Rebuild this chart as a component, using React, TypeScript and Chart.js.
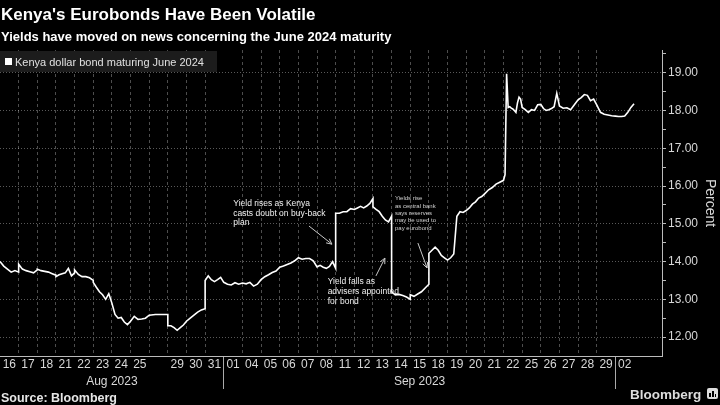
import React, { useEffect, useRef } from 'react';
import { Chart, registerables } from 'chart.js';
Chart.register(...registerables);

const FONT = '"Liberation Sans", Arial, sans-serif';

// Trading days shown on the x axis (slot 8 = 28 Aug, no label)
const dayLabels = ['16','17','18','21','22','23','24','25','','29','30','31','01','04','05','06','07','08','11','12','13','14','15','18','19','20','21','22','25','26','27','28','29','02'];
const months = ['Aug 2023', 'Sep 2023'];
const monthStarts = [0, 12];
const monthEnds = [12, 33];
const monthSeparators = [12, 33];

// Intraday yield samples (percent) for each trading day, in order
const yieldsByDay: number[][] = [
  [14.0, 13.88, 13.8, 13.72, 13.76, 13.72],
  [13.93, 13.8, 13.76, 13.73, 13.7, 13.78],
  [13.8, 13.76, 13.74, 13.72, 13.68, 13.64],
  [13.6, 13.65, 13.68, 13.7, 13.82, 13.62, 13.7],
  [13.78, 13.66, 13.6, 13.6, 13.57, 13.5],
  [13.45, 13.32, 13.2, 13.12, 13.0, 13.15, 12.9],
  [12.9, 12.6, 12.5, 12.52, 12.4, 12.33, 12.42],
  [12.42, 12.55, 12.47, 12.48, 12.5, 12.58],
  [12.58, 12.6, 12.6, 12.6],
  [12.3, 12.3, 12.25, 12.18, 12.25, 12.32, 12.42],
  [12.42, 12.5, 12.58, 12.66, 12.72, 12.75],
  [13.5, 13.62, 13.52, 13.47, 13.52, 13.58, 13.45],
  [13.45, 13.4, 13.38, 13.44, 13.4, 13.43],
  [13.43, 13.41, 13.45, 13.35, 13.4, 13.52],
  [13.52, 13.6, 13.65, 13.71, 13.75, 13.85],
  [13.85, 13.88, 13.92, 13.96, 14.02, 14.1],
  [14.1, 14.06, 14.08, 14.08, 14.02, 13.86],
  [13.86, 13.9, 13.85, 13.82, 13.87, 14.0, 13.82],
  [15.28, 15.28, 15.32, 15.32, 15.4, 15.38],
  [15.38, 15.42, 15.46, 15.42, 15.47, 15.54, 15.67],
  [15.45, 15.38, 15.32, 15.2, 15.1, 15.05, 15.2],
  [13.2, 13.12, 13.13, 13.1, 13.06, 13.0],
  [13.12, 13.08, 13.14, 13.2, 13.3, 13.4],
  [14.22, 14.3, 14.38, 14.3, 14.16, 14.1, 14.04],
  [14.04, 14.1, 14.2, 15.2, 15.32, 15.3, 15.35],
  [15.35, 15.42, 15.52, 15.58, 15.68, 15.72, 15.8],
  [15.8, 15.9, 15.96, 16.05, 16.1, 16.15],
  [16.15, 16.3, 18.97, 18.08, 18.1, 18.06, 18.04, 18.0, 17.95, 18.2, 18.35, 18.3, 18.08],
  [18.08, 18.02, 17.95, 18.02, 18.0, 18.15, 18.16],
  [18.16, 18.05, 18.0, 18.02, 18.05, 18.1, 18.45, 18.12],
  [18.12, 18.06, 18.07, 18.02, 18.15, 18.28],
  [18.28, 18.34, 18.42, 18.4, 18.26, 18.3, 18.15],
  [18.15, 17.95, 17.9, 17.88, 17.86, 17.85],
  [17.85, 17.84, 17.84, 17.85, 17.95, 18.08, 18.18],
];

const yTickValues = [12, 12.5, 13, 13.5, 14, 14.5, 15, 15.5, 16, 16.5, 17, 17.5, 18, 18.5, 19, 19.5];
const yMin = 11.5;
const yMax = 19.6;
const xMax = 35.5;

// Annotations (positions in axis units: trading-day index, percent)
const noteLines = [
  ['Yield rises as Kenya', 'casts doubt on buy-back', 'plan'],
  ['Yield falls as', 'advisers appointed', 'for bond'],
  ['Yields rise', 'as central bank', 'says reserves', 'may be used to', 'pay eurobond'],
];
const noteTextPos = [[12.51, 15.54], [17.57, 13.47], [21.18, 15.67]];
const noteArrowFrom = [[16.57, 14.94], [20.16, 13.62], [22.41, 14.49]];
const noteArrowTo = [[17.8, 14.46], [20.64, 14.09], [22.9, 13.83]];
const noteFontSizes = [8.5, 8.5, 6];
const noteLineHeights = [9.8, 9.8, 7.4];

function buildXTicks() {
  const t: any[] = [];
  for (let j = 1; j <= 34; j++) {
    t.push({ value: j, kind: monthSeparators.includes(j) ? 'sep' : j <= 32 ? 'grid' : 'none', text: '' });
  }
  dayLabels.forEach((l, i) => t.push({ value: i + 0.5, kind: 'label', text: l }));
  months.forEach((m, i) => t.push({ value: (monthStarts[i] + monthEnds[i]) / 2, kind: 'month', text: ['', m] }));
  return t.sort((a, b) => a.value - b.value);
}

const notesPlugin = {
  id: 'notes',
  afterDatasetsDraw(chart: any) {
    const { ctx, scales } = chart;
    const xs = scales.x, ys = scales.y;
    ctx.save();
    noteLines.forEach((lines, i) => {
      ctx.font = `${noteFontSizes[i]}px ${FONT}`;
      ctx.fillStyle = i === 2 ? '#d0d0d0' : '#f0f0f0';
      ctx.textAlign = 'left';
      ctx.textBaseline = 'middle';
      const tx = xs.getPixelForValue(noteTextPos[i][0]);
      const ty = ys.getPixelForValue(noteTextPos[i][1]);
      lines.forEach((l, k) => ctx.fillText(l, tx, ty + k * noteLineHeights[i]));
      const x1 = xs.getPixelForValue(noteArrowFrom[i][0]);
      const y1 = ys.getPixelForValue(noteArrowFrom[i][1]);
      const x2 = xs.getPixelForValue(noteArrowTo[i][0]);
      const y2 = ys.getPixelForValue(noteArrowTo[i][1]);
      ctx.strokeStyle = '#c8c8c8';
      ctx.lineWidth = 1;
      ctx.beginPath();
      ctx.moveTo(x1, y1);
      ctx.lineTo(x2, y2);
      const a = Math.atan2(y2 - y1, x2 - x1);
      const h = 6;
      ctx.moveTo(x2 - h * Math.cos(a - 0.45), y2 - h * Math.sin(a - 0.45));
      ctx.lineTo(x2, y2);
      ctx.lineTo(x2 - h * Math.cos(a + 0.45), y2 - h * Math.sin(a + 0.45));
      ctx.stroke();
    });
    ctx.restore();
  },
};

export default function App() {
  const ref = useRef<HTMLCanvasElement>(null);
  useEffect(() => {
    document.body.style.margin = '0';
    document.body.style.background = '#000';
    Chart.defaults.font.family = FONT;
    const points = yieldsByDay.flatMap((vals, d) =>
      vals.map((v, k) => ({ x: d + k / (vals.length - 1), y: v }))
    );
    const chart = new Chart(ref.current as HTMLCanvasElement, {
      type: 'line',
      data: {
        datasets: [
          {
            label: 'Kenya dollar bond maturing June 2024',
            data: points,
            borderColor: '#ffffff',
            borderWidth: 1.6,
            pointRadius: 0,
            tension: 0,
          },
        ],
      },
      options: {
        animation: false,
        responsive: true,
        maintainAspectRatio: false,
        layout: { padding: { top: 50, left: 0, right: 0, bottom: 0 } },
        plugins: { legend: { display: false }, tooltip: { enabled: false } },
        scales: {
          x: {
            type: 'linear',
            min: 0,
            max: xMax,
            afterBuildTicks: (scale: any) => {
              scale.ticks = buildXTicks();
            },
            afterFit: (scale: any) => {
              scale.height = 49;
            },
            grid: {
              color: (c: any) => (c.tick && c.tick.kind === 'grid' ? 'rgba(255,255,255,0.3)' : 'rgba(0,0,0,0)'),
              tickColor: (c: any) => (c.tick && c.tick.kind === 'sep' ? '#aaaaaa' : 'rgba(0,0,0,0)'),
              tickLength: 33,
              lineWidth: 1,
            },
            border: { display: true, color: '#bbbbbb', width: 1, dash: [3, 3] },
            ticks: {
              autoSkip: false,
              maxRotation: 0,
              minRotation: 0,
              padding: -32,
              color: '#d8d8d8',
              font: { size: 12, family: FONT, lineHeight: 1.35 },
              callback: (v: any, i: number, ticks: any[]) => (ticks[i] && ticks[i].text !== undefined ? ticks[i].text : ''),
            },
          },
          y: {
            type: 'linear',
            position: 'right',
            min: yMin,
            max: yMax,
            afterBuildTicks: (scale: any) => {
              scale.ticks = yTickValues.map((v) => ({ value: v }));
            },
            afterFit: (scale: any) => {
              scale.width = 58;
            },
            grid: {
              color: (c: any) => (c.tick && Number.isInteger(c.tick.value) ? 'rgba(255,255,255,0.35)' : 'rgba(0,0,0,0)'),
              tickColor: '#bbbbbb',
              tickLength: 4,
            },
            border: { display: true, color: '#bbbbbb', width: 1, dash: [1, 2] },
            ticks: {
              color: '#d8d8d8',
              padding: 2,
              font: { size: 12, family: FONT },
              callback: (v: any) => (Number.isInteger(v) ? Number(v).toFixed(2) : ''),
            },
            title: {
              display: true,
              text: 'Percent',
              color: '#d8d8d8',
              font: { size: 14, family: FONT },
              padding: { top: 2, bottom: 0 },
            },
          },
        },
      } as any,
      plugins: [notesPlugin],
    });
    return () => chart.destroy();
  }, []);

  return (
    <div
      style={{
        position: 'fixed',
        left: 0,
        top: 0,
        width: 720,
        height: 405,
        background: '#000',
        overflow: 'hidden',
        fontFamily: FONT,
      }}
    >
      <div style={{ position: 'absolute', left: 0, top: 0, width: 720, height: 405 }}>
        <canvas ref={ref} />
      </div>
      <div
        style={{
          position: 'absolute',
          left: 1,
          top: 5,
          fontSize: 17,
          fontWeight: 'bold',
          color: '#ffffff',
          whiteSpace: 'nowrap',
        }}
      >
        Kenya's Eurobonds Have Been Volatile
      </div>
      <div
        style={{
          position: 'absolute',
          left: 1,
          top: 29,
          fontSize: 13,
          fontWeight: 'bold',
          color: '#ffffff',
          whiteSpace: 'nowrap',
        }}
      >
        Yields have moved on news concerning the June 2024 maturity
      </div>
      <div
        style={{
          position: 'absolute',
          left: 0,
          top: 51,
          width: 217,
          height: 21,
          background: '#1c1c1c',
          display: 'flex',
          alignItems: 'center',
        }}
      >
        <span style={{ display: 'inline-block', width: 7, height: 7, background: '#fff', marginLeft: 5, marginRight: 3 }} />
        <span style={{ color: '#e0e0e0', fontSize: 11, whiteSpace: 'nowrap' }}>Kenya dollar bond maturing June 2024</span>
      </div>
      <div
        style={{
          position: 'absolute',
          left: 1,
          top: 391,
          fontSize: 12.5,
          fontWeight: 'bold',
          color: '#e6e6e6',
          whiteSpace: 'nowrap',
        }}
      >
        Source: Bloomberg
      </div>
      <div
        style={{
          position: 'absolute',
          left: 630,
          top: 387,
          fontSize: 13.5,
          fontWeight: 'bold',
          color: '#dddddd',
          whiteSpace: 'nowrap',
        }}
      >
        Bloomberg
      </div>
      <div
        style={{
          position: 'absolute',
          left: 707,
          top: 388,
          width: 11,
          height: 11,
          background: '#dddddd',
          borderRadius: 2,
        }}
      >
        <div style={{ position: 'absolute', left: 2, bottom: 2, width: 2, height: 4, background: '#000' }} />
        <div style={{ position: 'absolute', left: 5, bottom: 2, width: 2, height: 6, background: '#000' }} />
        <div style={{ position: 'absolute', left: 8, bottom: 2, width: 1, height: 3, background: '#000' }} />
      </div>
    </div>
  );
}
